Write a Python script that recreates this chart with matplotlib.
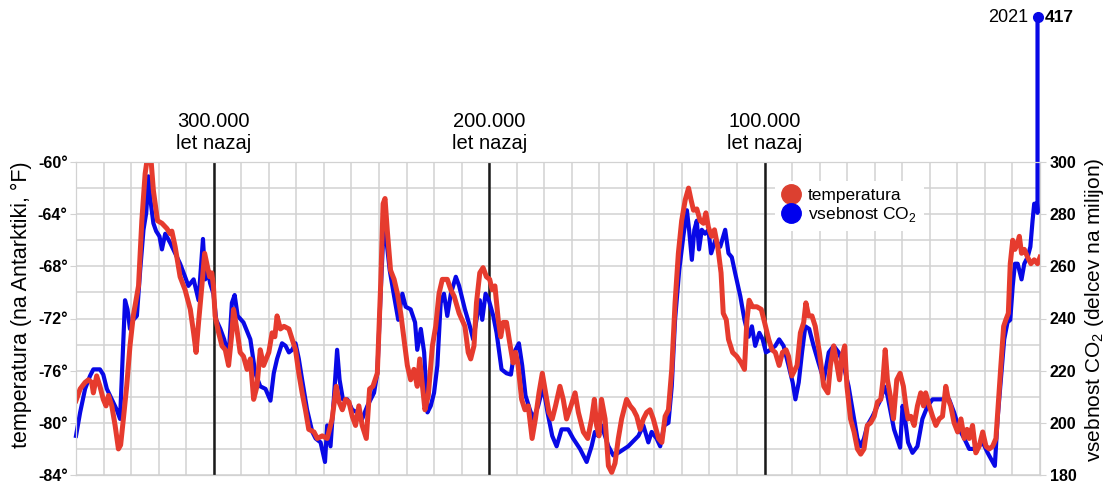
import numpy as np
import matplotlib.pyplot as plt
from matplotlib.lines import Line2D
import matplotlib.transforms as mtransforms

plt.rcParams['font.family'] = ['Liberation Sans', 'DejaVu Sans']
narrow = ['Liberation Sans Narrow', 'Liberation Sans', 'DejaVu Sans']

# temperatura na Antarktiki (°F), starost v tisocih let
temp_age = [
    350.0, 348.5, 346.7, 345.5, 344.3, 343.7, 342.5, 341.3, 340.1, 339.1,
    338.2, 337.0, 335.8, 334.6, 333.8, 332.8, 331.6, 330.4, 329.2, 327.3,
    326.1, 324.9, 324.3, 322.7, 321.9, 320.4, 318.8, 317.0, 315.8, 315.2,
    314.0, 312.2, 310.4, 308.5, 307.3, 306.4, 305.5, 304.3, 303.3, 302.5,
    301.5, 300.7, 300.1, 299.5, 298.2, 297.0, 295.8, 294.6, 293.4, 292.8,
    291.6, 290.4, 289.2, 287.9, 286.7, 285.5, 284.3, 283.1, 281.9, 280.0,
    278.8, 277.8, 277.0, 275.8, 274.5, 272.7, 271.5, 270.3, 269.1, 267.9,
    266.7, 265.5, 263.6, 262.4, 260.6, 258.8, 257.0, 255.5, 254.5, 253.3,
    252.1, 250.9, 249.7, 248.5, 247.3, 246.1, 244.6, 243.4, 242.2, 240.6,
    239.4, 238.5, 237.8, 237.0, 235.8, 234.5, 233.3, 232.1, 230.9, 229.7,
    228.5, 227.3, 226.1, 225.2, 224.2, 223.3, 222.1, 220.6, 219.4, 218.2,
    217.0, 215.2, 213.9, 212.7, 210.9, 208.8, 207.6, 206.7, 205.5, 204.6,
    203.4, 202.2, 201.0, 199.8, 198.9, 197.9, 196.7, 195.8, 194.9, 193.7,
    192.5, 191.3, 190.4, 189.5, 188.2, 187.0, 185.8, 184.4, 183.2, 181.9,
    180.7, 179.5, 178.3, 177.1, 175.9, 174.3, 173.1, 171.9, 170.3, 168.8,
    167.6, 165.8, 164.2, 162.8, 161.8, 161.0, 160.1, 159.2, 157.9, 156.7,
    155.5, 154.3, 153.1, 151.9, 150.1, 148.8, 147.6, 146.4, 145.2, 144.0,
    142.8, 141.6, 140.4, 138.5, 137.3, 136.1, 134.9, 133.7, 132.5, 131.3,
    130.1, 128.8, 127.6, 126.7, 125.8, 124.6, 123.4, 122.2, 121.3, 120.4,
    119.2, 118.2, 117.0, 115.8, 115.0, 113.9, 113.1, 111.6, 110.1, 108.5,
    107.3, 106.4, 105.6, 104.4, 102.8, 101.2, 100.0, 98.5, 97.3, 96.1,
    94.7, 93.5, 92.2, 91.3, 90.1, 88.2, 87.0, 85.8, 85.0, 84.0,
    82.8, 81.6, 80.1, 78.5, 77.0, 76.1, 74.9, 73.7, 72.8, 71.9,
    70.9, 70.1, 68.8, 67.5, 66.3, 65.1, 63.9, 62.7, 61.5, 60.2,
    59.0, 57.8, 57.0, 56.2, 55.4, 54.4, 53.2, 52.0, 50.8, 49.6,
    48.7, 47.9, 46.9, 45.7, 44.5, 43.3, 42.3, 41.5, 40.2, 39.0,
    37.8, 36.6, 35.4, 34.2, 33.3, 32.4, 31.2, 29.9, 28.7, 27.5,
    26.5, 25.7, 24.5, 23.3, 22.1, 20.8, 19.6, 18.4, 17.2, 16.0,
    15.2, 14.2, 13.2, 12.4, 11.5, 10.8, 9.9, 9.1, 8.1, 7.5,
    6.7, 5.7, 4.5, 3.3, 2.1, 0.9, 0.0]
temp_f = [
    -78.3, -77.4, -76.9, -76.7, -76.9, -77.7, -76.4, -77.2, -78.2, -78.7,
    -77.9, -78.7, -80.2, -82.0, -81.7, -79.7, -77.2, -74.1, -71.8, -69.5,
    -64.5, -60.9, -60.0, -60.0, -62.2, -64.5, -64.7, -65.1, -65.5, -65.3,
    -66.5, -68.8, -69.8, -71.3, -73.1, -74.6, -72.3, -69.5, -67.0, -67.8,
    -68.8, -68.5, -69.5, -71.8, -73.1, -74.1, -74.4, -75.6, -73.1, -71.3,
    -72.8, -74.6, -74.9, -75.9, -75.1, -78.2, -77.2, -74.4, -75.6, -74.6,
    -73.1, -73.4, -71.8, -72.8, -72.6, -72.8, -73.6, -74.4, -76.2, -77.7,
    -79.0, -80.5, -80.7, -81.2, -81.0, -81.2, -79.7, -77.2, -78.4, -79.0,
    -78.2, -78.4, -79.5, -80.2, -78.7, -80.2, -81.2, -77.4, -77.2, -76.2,
    -69.5, -63.2, -62.8, -65.2, -68.3, -69.0, -70.1, -71.6, -73.6, -75.6,
    -76.7, -75.9, -77.2, -75.1, -77.2, -79.0, -77.9, -74.1, -72.6, -70.1,
    -69.0, -69.0, -69.8, -70.3, -71.6, -72.6, -74.6, -75.1, -74.1, -70.8,
    -68.5, -68.1, -68.8, -69.0, -69.8, -69.5, -72.1, -73.4, -72.3, -72.3,
    -73.9, -75.4, -74.6, -75.6, -78.2, -79.0, -78.7, -81.2, -79.7, -77.7,
    -76.2, -77.7, -79.2, -79.7, -78.7, -77.2, -78.2, -79.7, -78.7, -77.7,
    -79.2, -80.7, -81.2, -79.7, -78.2, -80.2, -81.0, -78.2, -79.7, -83.3,
    -83.8, -83.1, -81.2, -79.7, -78.2, -78.7, -79.0, -79.5, -80.5, -79.7,
    -79.2, -79.0, -79.7, -81.2, -81.5, -79.5, -79.0, -75.9, -70.8, -67.0,
    -64.5, -62.9, -62.0, -62.9, -63.7, -63.6, -64.5, -64.7, -63.9, -65.0,
    -65.7, -65.2, -66.5, -68.5, -71.6, -72.1, -73.6, -74.6, -74.9, -75.4,
    -75.9, -72.1, -70.6, -71.1, -71.1, -71.3, -72.3, -73.6, -74.4, -74.6,
    -75.6, -74.6, -74.4, -74.9, -76.4, -75.6, -73.1, -72.3, -70.8, -71.8,
    -71.8, -72.6, -74.6, -77.2, -77.7, -75.6, -74.1, -75.6, -76.7, -74.9,
    -74.1, -77.2, -79.7, -80.7, -82.0, -82.4, -82.0, -80.2, -80.0, -79.5,
    -78.4, -78.2, -76.7, -74.4, -76.7, -77.9, -79.7, -76.7, -76.2, -77.2,
    -78.7, -79.7, -79.5, -80.2, -78.7, -77.7, -78.7, -77.7, -78.7, -79.5,
    -80.2, -79.7, -79.5, -77.2, -78.2, -78.7, -80.0, -80.7, -79.7, -81.2,
    -80.5, -81.2, -80.2, -82.3, -81.8, -80.7, -81.8, -82.0, -81.8, -81.2,
    -78.7, -75.6, -72.6, -72.1, -71.6, -67.8, -66.0, -66.7, -66.2, -65.7,
    -67.0, -66.7, -67.3, -67.8, -67.5, -67.8, -67.3]

# vsebnost CO2 (ppm), starost v tisocih let
co2_age = [
    350.0, 348.5, 346.7, 344.9, 343.7, 341.3, 340.1, 338.8, 337.0, 335.2,
    334.0, 333.0, 332.2, 331.3, 330.4, 329.2, 327.9, 326.7, 325.5, 324.5,
    323.7, 323.1, 321.9, 320.9, 319.7, 318.8, 317.6, 315.8, 314.0, 312.2,
    310.4, 309.2, 307.3, 305.5, 303.9, 303.1, 302.2, 301.3, 300.1, 299.1,
    297.6, 296.2, 294.6, 293.4, 292.4, 291.3, 289.2, 286.7, 284.9, 283.1,
    281.2, 279.4, 278.2, 277.0, 275.2, 273.9, 272.7, 271.5, 270.3, 269.1,
    267.9, 266.1, 264.2, 263.0, 261.2, 259.6, 258.8, 257.6, 256.4, 255.2,
    254.3, 253.1, 251.5, 249.7, 247.9, 246.1, 244.2, 243.0, 241.8, 240.6,
    239.4, 238.2, 237.3, 236.1, 234.5, 233.0, 231.5, 230.3, 228.5, 226.9,
    226.1, 224.8, 223.6, 222.4, 221.2, 220.0, 218.8, 217.6, 216.4, 215.2,
    213.9, 212.1, 210.9, 208.8, 207.0, 205.8, 204.6, 203.4, 202.5, 201.3,
    200.1, 198.5, 197.3, 195.5, 193.7, 192.1, 190.9, 189.2, 188.0, 186.8,
    185.2, 184.0, 182.2, 180.4, 178.8, 177.1, 175.5, 173.7, 171.3, 169.5,
    167.0, 164.6, 162.8, 161.6, 160.4, 159.2, 156.7, 154.9, 153.1, 149.5,
    145.8, 144.0, 142.2, 141.0, 139.2, 137.9, 136.4, 134.9, 133.7, 132.5,
    131.0, 129.5, 128.2, 127.4, 126.4, 125.5, 124.6, 123.8, 122.8, 121.6,
    120.4, 119.4, 117.9, 116.1, 114.3, 113.1, 111.9, 110.7, 108.8, 107.3,
    105.8, 104.6, 103.4, 101.9, 100.7, 99.5, 97.9, 96.1, 94.7, 93.1,
    91.3, 89.8, 88.8, 87.6, 86.4, 85.2, 83.8, 82.2, 80.4, 78.5,
    76.7, 74.9, 73.1, 71.3, 69.5, 68.7, 67.5, 66.3, 65.1, 63.9,
    62.7, 60.8, 59.0, 57.8, 56.6, 55.4, 54.2, 53.0, 50.8, 49.9,
    49.0, 47.9, 46.3, 44.5, 42.7, 40.8, 39.0, 36.0, 33.0, 31.2,
    29.3, 27.5, 25.7, 23.3, 20.8, 19.0, 17.2, 16.4, 15.4, 14.2,
    13.0, 11.8, 10.8, 9.9, 9.1, 8.1, 6.7, 5.7, 4.5, 3.5,
    2.7, 2.1, 1.1, 0.9]
co2_ppm = [
    195.0, 204.0, 213.0, 218.0, 220.5, 220.5, 218.5, 213.0, 209.0, 205.0,
    201.5, 227.0, 247.0, 243.5, 236.0, 239.5, 241.0, 258.5, 274.0, 280.5,
    294.5, 286.5, 276.5, 273.5, 271.5, 266.5, 272.5, 269.0, 265.0, 261.0,
    256.0, 252.5, 255.0, 247.0, 270.5, 255.0, 258.5, 253.5, 249.5, 239.5,
    236.0, 232.0, 225.5, 246.0, 249.0, 241.0, 238.5, 232.0, 219.0, 214.0,
    213.0, 208.5, 219.0, 224.5, 230.5, 229.5, 227.0, 228.0, 230.5, 224.5,
    216.5, 205.0, 196.5, 194.0, 192.5, 185.0, 199.0, 191.0, 209.0, 228.0,
    216.5, 209.0, 209.0, 205.0, 204.0, 201.5, 206.5, 209.0, 211.5, 219.0,
    249.5, 277.5, 270.0, 258.5, 248.5, 239.5, 249.5, 244.5, 243.5, 238.5,
    228.0, 236.0, 227.0, 204.0, 206.5, 211.5, 222.0, 246.0, 249.5, 241.0,
    249.5, 256.0, 252.5, 243.5, 237.0, 232.0, 239.5, 247.0, 239.5, 249.5,
    247.0, 241.0, 234.5, 220.5, 219.0, 218.5, 227.0, 230.5, 222.0, 210.5,
    205.0, 201.5, 206.5, 214.0, 204.0, 195.0, 191.0, 197.5, 197.5, 194.0,
    190.0, 185.0, 191.0, 196.5, 195.0, 199.0, 191.0, 187.5, 188.5, 191.0,
    195.0, 199.0, 192.5, 196.5, 194.0, 191.0, 199.0, 200.0, 214.0, 239.5,
    258.5, 271.5, 281.5, 274.0, 262.5, 274.0, 277.5, 266.5, 274.0, 272.5,
    274.0, 265.0, 270.0, 267.5, 274.0, 265.0, 263.5, 257.5, 248.5, 239.5,
    233.0, 237.0, 229.5, 234.5, 232.0, 227.0, 228.0, 229.5, 232.0, 229.5,
    222.0, 215.5, 209.0, 215.5, 227.0, 237.0, 236.0, 229.5, 223.0, 216.5,
    227.0, 229.5, 227.0, 222.0, 214.0, 209.0, 201.5, 194.0, 191.0, 194.0,
    199.0, 202.5, 206.5, 209.0, 214.0, 210.5, 204.0, 197.5, 190.5, 206.5,
    201.5, 192.5, 188.5, 191.0, 201.5, 206.5, 209.0, 209.0, 209.0, 204.0,
    197.5, 194.0, 190.0, 190.0, 192.5, 188.5, 185.0, 183.5, 201.5, 216.5,
    232.0, 238.5, 239.5, 252.5, 261.0, 261.0, 255.0, 261.0, 263.5, 267.5,
    277.5, 284.0, 284.0, 280.5]

# danasnja vrednost (2021)
now_age = 0.9
now_ppm = 417
now_label = '2021'

marks = [300, 200, 100]
mark_labels = ['300.000\nlet nazaj', '200.000\nlet nazaj', '100.000\nlet nazaj']
temp_ticks = [-84, -80, -76, -72, -68, -64, -60]
temp_ticklabels = ['-84°', '-80°', '-76°', '-72°', '-68°', '-64°', '-60°']
co2_ticks = [180, 200, 220, 240, 260, 280, 300]

red = '#e63b2e'
blue = '#0808e6'
gridc = '#d2d2d2'


# nad 300 ppm je os stisnjena, da 417 se pade na sliko
def fwd(c):
    c = np.asarray(c, dtype=float)
    return np.where(c <= 300, c, 300 + (c - 300) * 0.475)


def inv(v):
    v = np.asarray(v, dtype=float)
    return np.where(v <= 300, v, 300 + (v - 300) / 0.475)


fig = plt.figure(figsize=(11.09, 4.84), dpi=100)
axc = fig.add_axes([76 / 1109, 9 / 484, 964 / 1109, 313 / 484])
axc.set_yscale('function', functions=(fwd, inv))
axc.set_xlim(350, 0)
axc.set_ylim(180, 300)

axt = axc.twinx()
axt.set_ylim(-84, -60)
axc.yaxis.tick_right()
axt.yaxis.tick_left()

# mreza
axc.set_xticks(np.arange(0, 351, 10))
axc.set_yticks(np.arange(190, 300, 20), minor=True)
axc.grid(True, which='both', color=gridc, lw=1.1)
axc.set_axisbelow(True)
axc.tick_params(axis='x', length=0, labelbottom=False)
axc.tick_params(axis='y', which='minor', length=0)
axc.tick_params(axis='y', which='major', length=4, color=gridc, pad=3)
axc.set_yticks(co2_ticks, [str(v) for v in co2_ticks], fontweight='bold',
               fontfamily=narrow, fontsize=11.5)
axt.set_yticks(temp_ticks, temp_ticklabels, fontweight='bold',
               fontfamily=narrow, fontsize=11.5)
axt.tick_params(axis='y', length=4, color=gridc, pad=2)
for ax in (axc, axt):
    for s in ax.spines.values():
        s.set_color(gridc)

for m in marks:
    axc.axvline(m, color='#1a1a1a', lw=1.8, zorder=1.5)

axc.plot(co2_age + [now_age], co2_ppm + [now_ppm], color=blue, lw=3.0,
         clip_on=False, solid_joinstyle='round', zorder=2)
axc.plot([now_age], [now_ppm], 'o', color=blue, ms=7, clip_on=False, zorder=3)
axc.annotate(now_label, (now_age, now_ppm), xytext=(-7, 0), textcoords='offset points',
             ha='right', va='center', fontsize=13, annotation_clip=False)
axc.annotate(str(now_ppm), (now_age, now_ppm), xytext=(5, 0), textcoords='offset points',
             ha='left', va='center', fontsize=12.5, fontweight='bold', annotation_clip=False)

axt.plot(temp_age, temp_f, color=red, lw=3.6, solid_joinstyle='round')

trans = mtransforms.blended_transform_factory(axt.transData, axt.transAxes)
for m, lbl in zip(marks, mark_labels):
    axt.text(m, 1.03, lbl, transform=trans, ha='center', va='bottom',
             fontsize=14.5, linespacing=1.2)

handles = [Line2D([], [], marker='o', ls='none', color='#dc4030', ms=14),
           Line2D([], [], marker='o', ls='none', color='#0000ee', ms=14)]
axt.legend(handles, ['temperatura', 'vsebnost CO$_\\mathregular{2}$'],
           loc='upper left', bbox_to_anchor=(0.725, 0.94), frameon=True,
           facecolor='white', edgecolor='none', framealpha=1, fancybox=False,
           fontsize=12.5, handlelength=1.0, handletextpad=0.5,
           labelspacing=0.15, borderpad=0.4, borderaxespad=0)

fig.text(0.019, 0.37, 'temperatura (na Antarktiki, °F)', rotation=90,
         ha='center', va='center', fontsize=15.5)
fig.text(0.987, 0.36, 'vsebnost CO$_\\mathregular{2}$ (delcev na milijon)', rotation=90,
         ha='center', va='center', fontsize=15)

fig.savefig('out.png', dpi=100)
